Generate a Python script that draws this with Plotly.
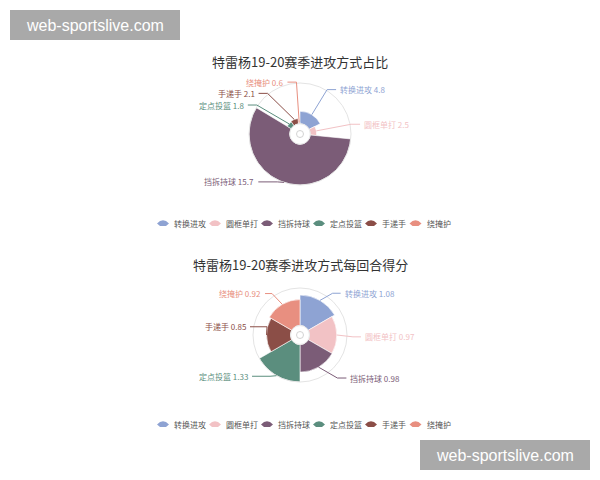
import numpy as np
import plotly.graph_objects as go

# 数据
names = ["转换进攻", "圆框单打", "挡拆持球", "定点投篮", "手递手", "绕掩护"]
colors = ["#8ea3d3", "#f2c2c5", "#7b5c77", "#5b8e7e", "#8b4e47", "#e88f80"]
share = [4.8, 2.5, 15.7, 1.8, 2.1, 0.6]      # 占比
ppp = [1.08, 0.97, 0.98, 1.33, 0.85, 0.92]   # 每回合得分

W, H = 600, 480
HOLE = 0.2
FONT = "Noto Sans CJK SC"


def px(x):
    return x / W


def py(y):
    return 1 - y / H


# 两个玫瑰图的布局; tweak: 序号 -> (角度偏移, 折点半径, 水平线长)
charts = [
    dict(key="polar", title="特雷杨19-20赛季进攻方式占比", values=share, rose="radius",
         cx=300, cy=134, R=51, title_y=62, legend_y=223, Re=52, L=9,
         tweak={2: (7, 53, 19), 3: (-9, 52, 9), 4: (-17, 52, 9)}),
    dict(key="polar2", title="特雷杨19-20赛季进攻方式每回合得分", values=ppp, rose="area",
         cx=300, cy=335, R=47, title_y=264, legend_y=424, Re=52, L=9,
         tweak={0: (8, 53, 8), 1: (2, 53, 8), 2: (-11, 57, 9), 3: (6, 51, 18),
                4: (14, 34, 17), 5: (-4, 50, 7)}),
]

fig = go.Figure()
shapes = []
annotations = []
layout_polars = {}

for ch in charts:
    vals = np.array(ch["values"], dtype=float)
    if ch["rose"] == "radius":
        widths = vals / vals.sum() * 360
    else:
        widths = np.full(len(vals), 360 / len(vals))
    starts = np.concatenate([[0], np.cumsum(widths)[:-1]])
    mids = starts + widths / 2
    vmax = vals.max()
    cx, cy, R = ch["cx"], ch["cy"], ch["R"]

    for i, name in enumerate(names):
        fig.add_trace(go.Barpolar(
            r=[vals[i]], theta=[mids[i]], width=[widths[i]], name=name,
            marker=dict(color=colors[i], line=dict(color="white", width=0.6)),
            subplot=ch["key"], showlegend=False,
        ))

        # 标签线和文字
        th = np.radians(mids[i])
        ra = R * (HOLE + (1 - HOLE) * vals[i] / vmax)
        ax_, ay_ = cx + ra * np.sin(th), cy - ra * np.cos(th)
        dth, Re, L = ch["tweak"].get(i, (0, ch["Re"], ch["L"]))
        te = np.radians(mids[i] + dth)
        ex, ey = cx + Re * np.sin(te), cy - Re * np.cos(te)
        side = 1 if np.sin(te) >= 0 else -1
        endx = ex + side * L
        shapes.append(dict(
            type="path", xref="paper", yref="paper",
            path=f"M {px(ax_)},{py(ay_)} L {px(ex)},{py(ey)} L {px(endx)},{py(ey)}",
            line=dict(color=colors[i], width=1),
        ))
        annotations.append(dict(
            x=px(endx + side * 2), y=py(ey), xref="paper", yref="paper",
            text=f"{name} {ch['values'][i]}", showarrow=False,
            xanchor="left" if side > 0 else "right", yanchor="middle",
            font=dict(family=FONT, size=8, color=colors[i]),
        ))

    layout_polars[ch["key"]] = dict(
        domain=dict(x=[px(cx - R), px(cx + R)], y=[py(cy + R), py(cy - R)]),
        hole=HOLE, bgcolor="white",
        radialaxis=dict(visible=False, range=[0, vmax]),
        angularaxis=dict(rotation=90, direction="clockwise", showgrid=False,
                         showticklabels=False, ticks="", showline=True,
                         linecolor="#e4e4e4", linewidth=1),
    )

    # 中心白圈
    rh = R * HOLE
    shapes.append(dict(type="circle", xref="paper", yref="paper",
                       x0=px(cx - rh), x1=px(cx + rh), y0=py(cy + rh), y1=py(cy - rh),
                       line=dict(color="#e6e6e6", width=0.8), fillcolor="white"))
    shapes.append(dict(type="circle", xref="paper", yref="paper",
                       x0=px(cx - 3.5), x1=px(cx + 3.5), y0=py(cy + 3.5), y1=py(cy - 3.5),
                       line=dict(color="#c8c8c8", width=0.8)))

    # 标题
    annotations.append(dict(x=0.5, y=py(ch["title_y"]), xref="paper", yref="paper",
                            text=ch["title"], showarrow=False, xanchor="center", yanchor="middle",
                            font=dict(family=FONT, size=13, color="#333333")))

    # 图例
    x = 158
    ly = ch["legend_y"]
    for i, name in enumerate(names):
        c = x + 5
        shapes.append(dict(
            type="path", xref="paper", yref="paper",
            path=(f"M {px(c - 6)},{py(ly + 0.5)} Q {px(c)},{py(ly - 6)} {px(c + 6)},{py(ly + 0.5)} "
                  f"L {px(c + 3)},{py(ly + 3)} L {px(c - 3)},{py(ly + 3)} Z"),
            fillcolor=colors[i], line=dict(width=0),
        ))
        annotations.append(dict(x=px(x + 14), y=py(ly), xref="paper", yref="paper",
                                text=name, showarrow=False, xanchor="left", yanchor="middle",
                                font=dict(family=FONT, size=8, color="#555555")))
        x += 14 + 7.5 * len(name) + 8

# 水印
for (x0, y0) in [(10, 10), (420, 440)]:
    shapes.append(dict(type="rect", xref="paper", yref="paper",
                       x0=px(x0), x1=px(x0 + 170), y0=py(y0 + 30), y1=py(y0),
                       fillcolor="#a9a9a9", line=dict(width=0)))
    annotations.append(dict(x=px(x0 + 85), y=py(y0 + 15), xref="paper", yref="paper",
                            text="web-sportslive.com", showarrow=False,
                            xanchor="center", yanchor="middle",
                            font=dict(family="Liberation Sans", size=16, color="white")))

fig.update_layout(
    width=W, height=H, margin=dict(l=0, r=0, t=0, b=0),
    paper_bgcolor="white", plot_bgcolor="white",
    showlegend=False, shapes=shapes, annotations=annotations,
    **layout_polars,
)

# 去掉页面默认边距和工具栏
fig.write_html("out.html", config={"displayModeBar": False},
               post_script="document.body.style.margin='0px';")
